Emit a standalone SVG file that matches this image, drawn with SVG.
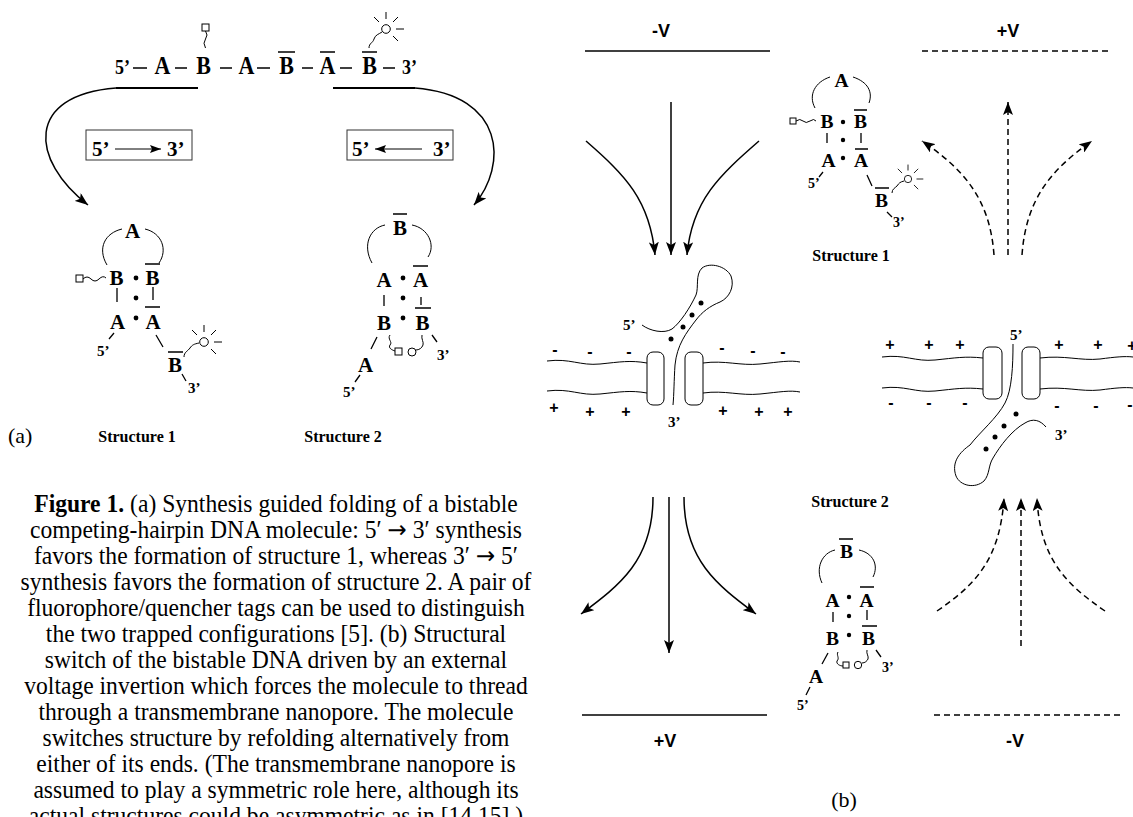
<svg xmlns="http://www.w3.org/2000/svg" width="1133" height="817" viewBox="0 0 1133 817">
<style>
text{fill:#000}
.sf{font-family:"Liberation Serif","Times New Roman",serif}
.bd{font-family:"Liberation Serif","Times New Roman",serif;font-weight:bold}
.ss{font-family:"Liberation Sans",Arial,sans-serif;font-weight:bold}
.ar{font-family:"DejaVu Sans",sans-serif;font-size:23px}
.seq{font-size:22px;text-anchor:middle}
.end{font-size:18px}
.st{font-size:21px;text-anchor:middle}
.st2{font-size:19.5px;text-anchor:middle}
.tip{font-size:15px}
.tip2{font-size:14px}
.box{font-size:21px}
.lab{font-size:16px;text-anchor:middle}
.cap{font-size:23.6px;text-anchor:middle}
.v{font-size:18px;text-anchor:middle}
.pm{font-size:16px;text-anchor:middle}
.ln{stroke:#000;stroke-width:1.5;fill:none}
.th{stroke:#000;stroke-width:1;fill:none}
.bar{stroke:#000;stroke-width:1.3;fill:none}
.dsh{stroke-dasharray:6 4}
.dt{fill:#000}
.pore{stroke:#000;stroke-width:1;fill:#fff}
</style>
<defs>
<marker id="ah" markerUnits="userSpaceOnUse" markerWidth="14" markerHeight="10" refX="13" refY="5" orient="auto"><path d="M0,0 L13,5 L0,10 L3,5 z"/></marker>
<marker id="ahs" markerUnits="userSpaceOnUse" markerWidth="12" markerHeight="8" refX="11" refY="4" orient="auto"><path d="M0,0 L11,4 L0,8 L2,4 z"/></marker>
<g id="sun" class="th"><circle r="4.3" fill="#fff"/><path d="M0,-10V-17M-7,-7L-12,-12M7,-7L12,-12M10,0H18M7,7L12,12"/></g>
<rect id="qt" class="th" width="7" height="7" fill="#fff"/>
</defs>

<!-- (a) linear sequence -->
<g id="sequence">
<path class="bar" d="M133,68H147M175,68H187M220,68H232M257,68H270M302,68H313M340,68H352M383,68H395M278,52H295M320,52H335M362,52H377"/>
<g transform="translate(0,74) scale(1,1.15) translate(0,-74)">
<text class="bd end" x="115" y="74">5’</text>
<text class="bd seq" x="162.5" y="74">A</text>
<text class="bd seq" x="203.5" y="74">B</text>
<text class="bd seq" x="246.5" y="74">A</text>
<text class="bd seq" x="286.5" y="74">B</text>
<text class="bd seq" x="327.5" y="74">A</text>
<text class="bd seq" x="369.5" y="74">B</text>
<text class="bd end" x="402" y="74">3’</text>
</g>
<use href="#qt" x="202" y="24"/>
<path class="th" d="M205.5,31q3,4 0,8t0,9"/>
<path class="th" d="M369,48c0,-5 4,-5 5,-9c1,-4 5,-5 8,-7"/>
<use href="#sun" x="386" y="29"/>
</g>

<!-- (a) synthesis direction boxes -->
<g id="box-53">
<rect x="86" y="130" width="106" height="30" stroke="#333" stroke-width="1" fill="none"/>
<text class="bd box" x="92" y="156">5’</text>
<text class="bd box" x="167" y="156">3’</text>
</g>
<g id="box-35">
<rect x="347" y="130" width="106" height="30" stroke="#333" stroke-width="1" fill="none"/>
<text class="bd box" x="352" y="156">5’</text>
<text class="bd box" x="433" y="156">3’</text>
</g>

<!-- (a) structure 1 -->
<g id="a-structure1">
<path class="th" d="M122,229C105,233 97,248 107,265M145,229C162,233 168,250 159,263"/>
<text class="bd st" x="132.5" y="238">A</text>
<text class="bd st" x="116.5" y="285">B</text>
<text class="bd st" x="152.5" y="285">B</text>
<text class="bd st" x="117.5" y="329">A</text>
<text class="bd st" x="153" y="329">A</text>
<text class="bd st" x="175" y="372">B</text>
<circle class="dt" cx="136" cy="278" r="2.4"/>
<circle class="dt" cx="136" cy="298" r="2.4"/>
<circle class="dt" cx="136" cy="318" r="2.4"/>
<path class="bar" d="M145,264H160M145,307H160M168,352H183M117,288V302M153,287V300M114,333L109,339M156,335L163,347M182,374L186,381"/>
<text class="bd tip" x="97" y="356">5’</text>
<text class="bd tip" x="188" y="393">3’</text>
<use href="#qt" x="76" y="275"/>
<path class="th" d="M83,279q4,-4 8,0t8,0t7,-1"/>
<path class="th" d="M184,357c0,-5 4,-6 6,-9c2,-3 4,-4 9,-5"/>
<use href="#sun" x="204" y="342"/>
</g>

<!-- (a) structure 2 -->
<g id="a-structure2">
<path class="th" d="M385,225C370,228 362,245 372,263M412,225C428,228 436,245 428,257"/>
<text class="bd st" x="400" y="235">B</text>
<text class="bd st" x="384" y="287">A</text>
<text class="bd st" x="420.5" y="287">A</text>
<text class="bd st" x="384" y="330">B</text>
<text class="bd st" x="422.5" y="330">B</text>
<text class="bd st" x="365.5" y="372">A</text>
<circle class="dt" cx="403" cy="278" r="2.4"/>
<circle class="dt" cx="403" cy="298" r="2.4"/>
<circle class="dt" cx="403" cy="318" r="2.4"/>
<path class="bar" d="M393,214H407M413,266H428M415,308H431M384,295V306M421,297V305M377,337L371,349M360,375L355,382M432,335L437,342"/>
<text class="bd tip" x="343" y="397">5’</text>
<text class="bd tip" x="437" y="360">3’</text>
<path class="th" d="M390,335c-3,4 3,7 0,10c-2,3 2,5 5,6"/>
<use href="#qt" x="395" y="348"/>
<circle class="th" cx="412" cy="352" r="4" fill="#fff"/>
<path class="th" d="M416,350c3,0 6,-2 7,-5c1,-3 -2,-6 -1,-10"/>
</g>

<text class="sf" x="8" y="443" font-size="22">(a)</text>
<text class="bd lab" x="137" y="442">Structure 1</text>
<text class="bd lab" x="343" y="442">Structure 2</text>

<!-- caption, slightly tall type -->
<g id="caption" class="sf cap" transform="translate(0,512) scale(1,1.06) translate(0,-512)">
<text x="276" y="512"><tspan font-weight="bold">Figure 1.</tspan> (a) Synthesis guided folding of a bistable</text>
<text x="276" y="536.5">competing-hairpin DNA molecule: 5′ <tspan class="ar">→</tspan> 3′ synthesis</text>
<text x="276" y="561.1">favors the formation of structure 1, whereas 3′ <tspan class="ar">→</tspan> 5′</text>
<text x="276" y="585.6">synthesis favors the formation of structure 2. A pair of</text>
<text x="276" y="610.1">fluorophore/quencher tags can be used to distinguish</text>
<text x="276" y="634.7">the two trapped configurations [5]. (b) Structural</text>
<text x="276" y="659.2">switch of the bistable DNA driven by an external</text>
<text x="276" y="683.7">voltage invertion which forces the molecule to thread</text>
<text x="276" y="708.2">through a transmembrane nanopore. The molecule</text>
<text x="276" y="732.8">switches structure by refolding alternatively from</text>
<text x="276" y="757.3">either of its ends. (The transmembrane nanopore is</text>
<text x="276" y="781.8">assumed to play a symmetric role here, although its</text>
<text x="276" y="806.4">actual structures could be asymmetric as in [14,15].)</text>
</g>

<!-- (b) electrodes -->
<g id="electrodes">
<text class="ss v" x="661" y="37">-V</text>
<line x1="585" y1="51" x2="770" y2="51" stroke="#000" stroke-width="1.6"/>
<text class="ss v" x="1008" y="37">+V</text>
<line class="dsh" x1="922" y1="51" x2="1108" y2="51" stroke="#000" stroke-width="1.6"/>
<line x1="582" y1="715" x2="767" y2="715" stroke="#000" stroke-width="1.6"/>
<text class="ss v" x="665" y="747">+V</text>
<line class="dsh" x1="934" y1="715" x2="1120" y2="715" stroke="#000" stroke-width="1.6"/>
<text class="ss v" x="1015" y="747">-V</text>
</g>

<!-- (b) structure 1 -->
<g id="b-structure1">
<path class="th" d="M830,77C815,82 808,95 815,108M853,77C868,82 873,92 869,103"/>
<text class="bd st2" x="841.5" y="87">A</text>
<text class="bd st2" x="827" y="128">B</text>
<text class="bd st2" x="860.5" y="128">B</text>
<text class="bd st2" x="828.5" y="167">A</text>
<text class="bd st2" x="861" y="167">A</text>
<text class="bd st2" x="881.5" y="207">B</text>
<circle class="dt" cx="843" cy="122" r="2.2"/>
<circle class="dt" cx="843" cy="140" r="2.2"/>
<circle class="dt" cx="843" cy="158" r="2.2"/>
<path class="bar" d="M854,110H867M855,149H868M875,188H889M827,133V143M861,133V143M823,172L819,177M867,175L872,186M887,212L892,217"/>
<text class="bd tip2" x="808" y="188">5’</text>
<text class="bd tip2" x="893" y="227">3’</text>
<rect class="th" x="790" y="118" width="6" height="6" fill="#fff"/>
<path class="th" d="M796,121q4,-3 7,0t7,0t6,0"/>
<path class="th" d="M892,193c0,-4 3,-5 5,-7c2,-3 3,-4 7,-5"/>
<use href="#sun" transform="translate(908,179) scale(0.85)"/>
<text class="bd lab" x="851" y="261">Structure 1</text>
</g>

<!-- (b) threaded molecule, top membrane -->
<g id="membrane-top">
<path class="th" d="M547,361C570,358 580,366 600,364C620,362 630,360 647,363"/>
<path class="th" d="M547,391C570,388 580,396 600,394C620,392 630,390 647,393"/>
<path class="th" d="M703,363C725,360 740,366 760,364C780,362 790,360 800,362"/>
<path class="th" d="M703,393C725,390 740,396 760,394C780,392 790,390 800,392"/>
<rect class="pore" x="647" y="352" width="17" height="53" rx="6"/>
<rect class="pore" x="685" y="352" width="18" height="53" rx="6"/>
<g class="ss pm">
<text x="555" y="355">-</text><text x="590" y="357">-</text><text x="629" y="357">-</text>
<text x="722" y="353">-</text><text x="753" y="356">-</text><text x="783" y="357">-</text>
<text x="554" y="413">+</text><text x="590" y="417">+</text><text x="626" y="417">+</text>
<text x="723" y="416">+</text><text x="759" y="417">+</text><text x="788" y="417">+</text>
</g>
<path class="th" d="M642,325C650,331 664,334 672,329C680,323 690,308 696,295C699,287 695,275 702,268C710,262 726,266 731,276C735,287 729,298 720,302C710,306 702,312 696,320C686,333 677,345 675,365C674,380 674,395 673,405"/>
<circle class="dt" cx="671" cy="339" r="2.5"/>
<circle class="dt" cx="683" cy="327" r="2.5"/>
<circle class="dt" cx="692" cy="315" r="2.5"/>
<circle class="dt" cx="701" cy="303" r="2.5"/>
<text class="bd tip" x="623" y="330">5’</text>
<text class="bd tip" x="668" y="427">3’</text>
</g>

<!-- (b) threaded molecule, right membrane -->
<g id="membrane-right">
<path class="th" d="M882,357C905,354 915,362 935,360C955,358 965,356 983,358"/>
<path class="th" d="M882,388C905,385 915,393 935,391C955,389 965,387 983,389"/>
<path class="th" d="M1040,358C1065,355 1080,361 1100,359C1115,357 1125,356 1133,357"/>
<path class="th" d="M1040,389C1065,386 1080,392 1100,390C1115,388 1125,387 1133,388"/>
<rect class="pore" x="983" y="347" width="19" height="52" rx="6"/>
<rect class="pore" x="1022" y="347" width="18" height="52" rx="6"/>
<g class="ss pm">
<text x="890" y="350">+</text><text x="929" y="350">+</text><text x="960" y="350">+</text>
<text x="1059" y="350">+</text><text x="1098" y="350">+</text><text x="1132" y="351">+</text>
<text x="891" y="408">-</text><text x="929" y="408">-</text><text x="965" y="408">-</text>
<text x="1057" y="411">-</text><text x="1096" y="411">-</text><text x="1130" y="410">-</text>
</g>
<path class="th" d="M1013,344C1013,365 1012,390 1005,403C997,418 980,432 970,445C960,452 951,462 956,476C960,486 975,489 984,481C990,474 988,466 993,458C1000,446 1012,430 1025,423C1033,418 1040,420 1046,427"/>
<circle class="dt" cx="1016" cy="414" r="2.5"/>
<circle class="dt" cx="1004" cy="426" r="2.5"/>
<circle class="dt" cx="995" cy="437" r="2.5"/>
<circle class="dt" cx="986" cy="449" r="2.5"/>
<text class="bd tip" x="1010" y="340">5’</text>
<text class="bd tip" x="1055" y="440">3’</text>
</g>

<!-- (b) structure 2 -->
<g id="b-structure2">
<text class="bd lab" x="850" y="507">Structure 2</text>
<path class="th" d="M835,550C822,553 815,568 822,583M859,550C873,553 879,565 873,577"/>
<text class="bd st2" x="846.5" y="558">B</text>
<text class="bd st2" x="832.5" y="607">A</text>
<text class="bd st2" x="866.5" y="607">A</text>
<text class="bd st2" x="832.5" y="645">B</text>
<text class="bd st2" x="868.5" y="645">B</text>
<text class="bd st2" x="816" y="683">A</text>
<circle class="dt" cx="849" cy="597" r="2.2"/>
<circle class="dt" cx="849" cy="616" r="2.2"/>
<circle class="dt" cx="849" cy="635" r="2.2"/>
<path class="bar" d="M839,539H853M860,587H874M862,626H877M833,612V622M867,610V620M828,653L822,664M810,687L806,695M876,650L881,657"/>
<text class="bd tip2" x="797" y="710">5’</text>
<text class="bd tip2" x="882" y="672">3’</text>
<path class="th" d="M838,652c-2,3 2,6 -1,9c-1,3 3,5 6,5"/>
<rect class="th" x="843" y="662" width="6" height="6" fill="#fff"/>
<circle class="th" cx="858" cy="665" r="3.7" fill="#fff"/>
<path class="th" d="M862,663c3,0 5,-2 6,-4c1,-3 -2,-5 -1,-9"/>
</g>

<text class="sf" x="844" y="807" font-size="22" text-anchor="middle">(b)</text>

<!-- connectors -->
<g id="connectors">
<path stroke="#000" stroke-width="2" d="M116,88H198M333,88H415"/>
<path class="ln" marker-end="url(#ah)" d="M116,88C25,95 30,160 88,205"/>
<path class="ln" marker-end="url(#ah)" d="M415,88C505,95 508,165 474,205"/>
<path class="th" stroke-width="1.3" marker-end="url(#ahs)" d="M115,149H161"/>
<path class="th" stroke-width="1.3" marker-end="url(#ahs)" d="M422,149H375"/>
<path class="ln" marker-end="url(#ah)" d="M586,141C625,175 650,200 655,255"/>
<path class="ln" marker-end="url(#ah)" d="M671,102V255"/>
<path class="ln" marker-end="url(#ah)" d="M759,141C720,175 692,200 687,255"/>
<path class="ln" marker-end="url(#ah)" d="M653,497C653,560 620,585 581,614"/>
<path class="ln" marker-end="url(#ah)" d="M669,497V653"/>
<path class="ln" marker-end="url(#ah)" d="M684,497C684,560 717,585 756,614"/>
<path class="ln dsh" marker-end="url(#ah)" d="M994,255C990,200 965,170 922,141"/>
<path class="ln dsh" marker-end="url(#ah)" d="M1008,255V102"/>
<path class="ln dsh" marker-end="url(#ah)" d="M1022,255C1026,200 1050,170 1092,141"/>
<path class="ln dsh" marker-end="url(#ah)" d="M937,611C975,585 1000,560 1004,498"/>
<path class="ln dsh" marker-end="url(#ah)" d="M1021,646V498"/>
<path class="ln dsh" marker-end="url(#ah)" d="M1105,611C1067,585 1040,560 1037,498"/>
</g>
</svg>
